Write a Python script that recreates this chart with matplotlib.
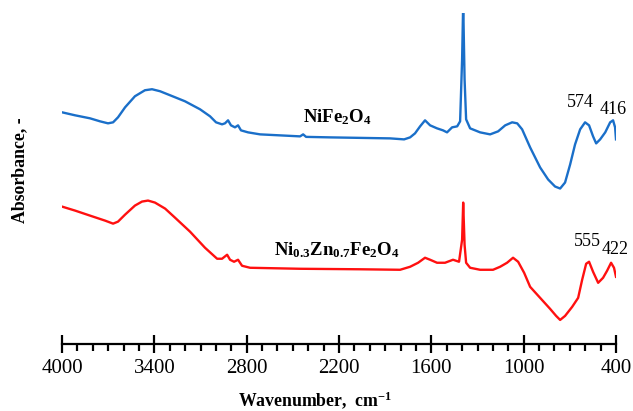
import matplotlib
matplotlib.use("Agg")
import matplotlib.pyplot as plt
from matplotlib.ticker import MultipleLocator

plt.rcParams['font.family'] = ['Liberation Serif', 'DejaVu Serif']
plt.rcParams['mathtext.fontset'] = 'custom'
plt.rcParams['mathtext.rm'] = 'Liberation Serif'
plt.rcParams['mathtext.bf'] = 'Liberation Serif:bold'
plt.rcParams['mathtext.it'] = 'Liberation Serif:italic'

# NiFe2O4 spectrum (wavenumber, absorbance in arbitrary units)
nife_wn = [4000, 3915, 3818, 3753, 3701, 3668, 3636, 3590, 3526, 3461, 3415, 3363,
           3298, 3201, 3103, 3038, 2999, 2960, 2941, 2921, 2902, 2876, 2856, 2837,
           2791, 2713, 2583, 2453, 2433, 2414, 2258, 2063, 1868, 1777, 1738, 1706,
           1673, 1641, 1608, 1563, 1524, 1498, 1465, 1432, 1413, 1400, 1393, 1384,
           1374, 1348, 1283, 1218, 1166, 1120, 1075, 1042, 1010, 958, 893, 841,
           796, 763, 731, 698, 666, 633, 601, 575, 549, 529, 503, 470, 438, 419,
           406, 400]
nife_abs = [2.31, 2.28, 2.25, 2.22, 2.20, 2.21, 2.26, 2.36, 2.47, 2.53, 2.54, 2.52,
            2.48, 2.42, 2.34, 2.27, 2.21, 2.19, 2.20, 2.23, 2.18, 2.16, 2.18, 2.13,
            2.11, 2.09, 2.08, 2.07, 2.09, 2.065, 2.06, 2.055, 2.05, 2.04, 2.06, 2.10,
            2.17, 2.23, 2.18, 2.15, 2.13, 2.11, 2.16, 2.17, 2.22, 2.84, 3.40, 2.64,
            2.24, 2.15, 2.11, 2.09, 2.12, 2.18, 2.21, 2.20, 2.14, 1.96, 1.76, 1.64,
            1.57, 1.55, 1.61, 1.79, 1.99, 2.14, 2.21, 2.18, 2.07, 2.00, 2.04, 2.11,
            2.21, 2.23, 2.16, 2.04]

# Ni0.3Zn0.7Fe2O4 spectrum
nizn_wn = [4000, 3915, 3818, 3720, 3668, 3636, 3590, 3526, 3480, 3441, 3396, 3330,
           3266, 3168, 3071, 2992, 2960, 2927, 2908, 2882, 2856, 2830, 2778, 2453,
           2063, 1803, 1738, 1686, 1641, 1608, 1563, 1511, 1459, 1420, 1400, 1393,
           1384, 1374, 1348, 1283, 1199, 1153, 1108, 1069, 1036, 997, 958, 893,
           828, 789, 763, 731, 685, 646, 620, 594, 575, 549, 516, 484, 458, 432,
           413, 400]
nizn_abs = [1.37, 1.33, 1.28, 1.23, 1.20, 1.22, 1.29, 1.38, 1.42, 1.43, 1.41, 1.35,
            1.26, 1.12, 0.96, 0.85, 0.85, 0.89, 0.84, 0.82, 0.84, 0.78, 0.76, 0.75,
            0.745, 0.74, 0.77, 0.81, 0.86, 0.84, 0.81, 0.81, 0.84, 0.82, 1.04, 1.41,
            0.99, 0.81, 0.76, 0.74, 0.74, 0.77, 0.81, 0.86, 0.82, 0.71, 0.57, 0.46,
            0.35, 0.28, 0.24, 0.28, 0.37, 0.46, 0.64, 0.80, 0.82, 0.72, 0.61, 0.66,
            0.73, 0.81, 0.76, 0.67]

peak_labels_nife = ["574", "416"]
peak_labels_nizn = ["555", "422"]

fig = plt.figure(figsize=(6.33, 4.11), dpi=100)
ax = fig.add_axes([62 / 633, 1 - 344 / 411, 554 / 633, 331 / 411])

ax.plot(nife_wn, nife_abs, color='#1a6fc9', lw=1.7)
ax.plot(nizn_wn, nizn_abs, color='#ff1010', lw=1.7)

ax.set_xlim(4000, 400)
ax.set_ylim(0, 3.30)

for s in ['top', 'right', 'left']:
    ax.spines[s].set_visible(False)
ax.spines['bottom'].set_linewidth(1.6)
ax.set_yticks([])

ax.xaxis.set_major_locator(MultipleLocator(600))
ax.xaxis.set_minor_locator(MultipleLocator(100))
ax.tick_params(axis='x', which='major', direction='inout', length=13, width=1.6,
               labelsize=15, pad=4)
ax.tick_params(axis='x', which='minor', direction='out', length=5, width=1.6)
ax.set_xticks([4000, 3400, 2800, 2200, 1600, 1000, 400])

# compound names
ax.text(2433, 2.26, r'$\mathbf{NiFe_2O_4}$', fontsize=13.5, va='center', ha='left')
ax.text(2622, 0.94, r'$\mathbf{Ni_{0.3}Zn_{0.7}Fe_2O_4}$', fontsize=13.5,
        va='center', ha='left')

# peak positions
ax.text(633, 2.41, peak_labels_nife[0], fontsize=13, ha='center', va='center')
ax.text(418, 2.34, peak_labels_nife[1], fontsize=13, ha='center', va='center')
ax.text(588, 1.02, peak_labels_nizn[0], fontsize=13, ha='center', va='center')
ax.text(405, 0.94, peak_labels_nizn[1], fontsize=13, ha='center', va='center')

fig.text(315 / 633, 1 - 400 / 411, r'Wavenumber,  cm$^{\mathbf{-1}}$',
         fontsize=12.8, fontweight='bold', ha='center', va='center')
fig.text(20 / 633, 1 - 170 / 411, 'Absorbance, -', fontsize=12.8,
         fontweight='bold', rotation=90, ha='center', va='center')

fig.savefig('out.png', dpi=100)
